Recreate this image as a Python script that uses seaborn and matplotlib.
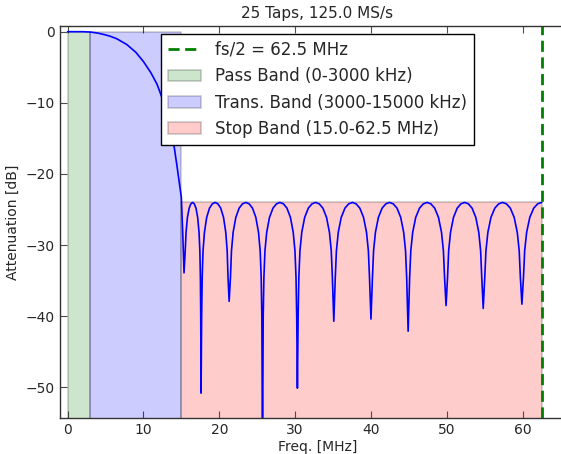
import numpy as np
import pandas as pd
import matplotlib
matplotlib.use("Agg")
import matplotlib.pyplot as plt
import seaborn as sns

# filter response (MHz, dB)
freq = [0, 1, 2, 3, 4, 5, 5.65, 6.5, 7.8, 9, 10, 11, 11.8, 12.7, 13.5, 14, 14.4, 14.7, 15.0, 15.2, 15.35,
        15.51, 15.62, 15.80, 16.03, 16.25, 16.475, 16.70, 16.93, 17.15, 17.33, 17.44, 17.51, 17.555, 17.6,
        17.674, 17.748, 17.859, 18.044, 18.34, 18.71, 19.08, 19.45, 19.82, 20.19, 20.56, 20.856, 21.041, 21.152, 21.3,
        21.476, 21.608, 21.828, 22.18, 22.62, 23.06, 23.5, 23.94, 24.38, 24.82, 25.172, 25.392, 25.524, 25.612, 25.7,
        25.792, 25.884, 26.022, 26.252, 26.62, 27.08, 27.54, 28.0, 28.46, 28.92, 29.38, 29.748, 29.978, 30.116, 30.208, 30.3,
        30.396, 30.492, 30.636, 30.876, 31.26, 31.74, 32.22, 32.7, 33.18, 33.66, 34.14, 34.524, 34.764, 34.908, 35.1,
        35.296, 35.443, 35.688, 36.08, 36.57, 37.06, 37.55, 38.04, 38.53, 39.02, 39.412, 39.657, 39.804, 40.0,
        40.196, 40.343, 40.588, 40.98, 41.47, 41.96, 42.45, 42.94, 43.43, 43.92, 44.312, 44.557, 44.704, 44.9,
        45.1, 45.25, 45.5, 45.9, 46.4, 46.9, 47.4, 47.9, 48.4, 48.9, 49.3, 49.55, 49.7, 49.9,
        50.096, 50.243, 50.488, 50.88, 51.37, 51.86, 52.35, 52.84, 53.33, 53.82, 54.212, 54.457, 54.604, 54.8,
        55.004, 55.157, 55.412, 55.82, 56.33, 56.84, 57.35, 57.86, 58.37, 58.88, 59.288, 59.543, 59.696, 59.9,
        60.108, 60.264, 60.524, 60.94, 61.46, 61.98, 62.5]
atten = [0, 0, 0, -0.05, -0.2, -0.45, -0.65, -1.0, -1.8, -2.9, -4.2, -5.8, -7.4, -10.0, -13.1, -15.8, -18.7, -21.0, -23.3, -28.9, -33.9,
         -30.8, -28.2, -26.1, -24.8, -24.2, -24.0, -24.2, -24.8, -26.1, -28.2, -30.8, -34.5, -40.0, -50.8,
         -40.0, -34.5, -30.8, -28.2, -26.1, -24.8, -24.2, -24.0, -24.2, -24.8, -26.1, -28.2, -30.8, -34.5, -37.9,
         -34.5, -30.8, -28.2, -26.1, -24.8, -24.2, -24.0, -24.2, -24.8, -26.1, -28.2, -30.8, -34.5, -40.0, -60.0,
         -40.0, -34.5, -30.8, -28.2, -26.1, -24.8, -24.2, -24.0, -24.2, -24.8, -26.1, -28.2, -30.8, -34.5, -40.0, -50.1,
         -40.0, -34.5, -30.8, -28.2, -26.1, -24.8, -24.2, -24.0, -24.2, -24.8, -26.1, -28.2, -30.8, -34.5, -40.7,
         -34.5, -30.8, -28.2, -26.1, -24.8, -24.2, -24.0, -24.2, -24.8, -26.1, -28.2, -30.8, -34.5, -40.4,
         -34.5, -30.8, -28.2, -26.1, -24.8, -24.2, -24.0, -24.2, -24.8, -26.1, -28.2, -30.8, -34.5, -42.1,
         -34.5, -30.8, -28.2, -26.1, -24.8, -24.2, -24.0, -24.2, -24.8, -26.1, -28.2, -30.8, -34.5, -38.5,
         -34.5, -30.8, -28.2, -26.1, -24.8, -24.2, -24.0, -24.2, -24.8, -26.1, -28.2, -30.8, -34.5, -38.9,
         -34.5, -30.8, -28.2, -26.1, -24.8, -24.2, -24.0, -24.2, -24.8, -26.1, -28.2, -30.8, -34.5, -38.3,
         -34.5, -30.8, -28.2, -26.1, -24.8, -24.2, -24.0]

pass_band = [0, 3]
trans_band = [3, 15]
stop_band = [15, 62.5]
stop_atten = -24.0
nyquist = 62.5

band_labels = ["Pass Band (0-3000 kHz)", "Trans. Band (3000-15000 kHz)", "Stop Band (15.0-62.5 MHz)"]
nyq_label = "fs/2 = 62.5 MHz"
title = "25 Taps, 125.0 MS/s"

sns.set_style("ticks")
plt.rcParams['font.family'] = ['DejaVu Sans']
plt.rcParams['xtick.direction'] = 'in'
plt.rcParams['ytick.direction'] = 'in'
plt.rcParams['xtick.top'] = True
plt.rcParams['ytick.right'] = True

ymin, ymax = -54.3, 0.8

fig = plt.figure(figsize=(5.61, 4.54), dpi=100)
ax = fig.add_axes([60/561, 36/454, 515/561, 392/454])

df = pd.DataFrame({"freq": freq, "atten": atten})
sns.lineplot(data=df, x="freq", y="atten", color="b", lw=1.2, estimator=None, ax=ax)

edge = (0, 0, 0, 0.2)
ax.fill_between(pass_band, 0, ymin - 10, facecolor=(0, 0.5, 0, 0.2), edgecolor=edge, lw=1.2, label=band_labels[0])
ax.fill_between(trans_band, 0, ymin - 10, facecolor=(0, 0, 1, 0.2), edgecolor=edge, lw=1.2, label=band_labels[1])
ax.fill_between(stop_band, stop_atten, ymin - 10, facecolor=(1, 0, 0, 0.2), edgecolor=edge, lw=1.2, label=band_labels[2])
ax.axvline(nyquist, color="g", lw=2, linestyle=(0, (4, 2)), label=nyq_label)

ax.set_xlim(-1, 66.9)
ax.set_ylim(ymin, ymax)
ax.set_xticks([0, 10, 20, 30, 40, 50, 60])
ax.set_yticks([0, -10, -20, -30, -40, -50])
ax.tick_params(labelsize=10, length=5, width=0.8, color='0.3')
for s in ax.spines.values():
    s.set_color('0.2')
    s.set_linewidth(1)

ax.set_xlabel("Freq. [MHz]", fontsize=10, labelpad=2)
ax.set_ylabel("Attenuation [dB]", fontsize=10)
ax.set_title(title, fontsize=11)

handles, labels = ax.get_legend_handles_labels()
order = [labels.index(nyq_label)] + [labels.index(l) for l in band_labels]
leg = ax.legend([handles[i] for i in order], [labels[i] for i in order], loc="upper center",
                fontsize=12, fancybox=False, framealpha=1, edgecolor='k')
leg.get_frame().set_linewidth(1)

fig.savefig("out.png", dpi=100)
